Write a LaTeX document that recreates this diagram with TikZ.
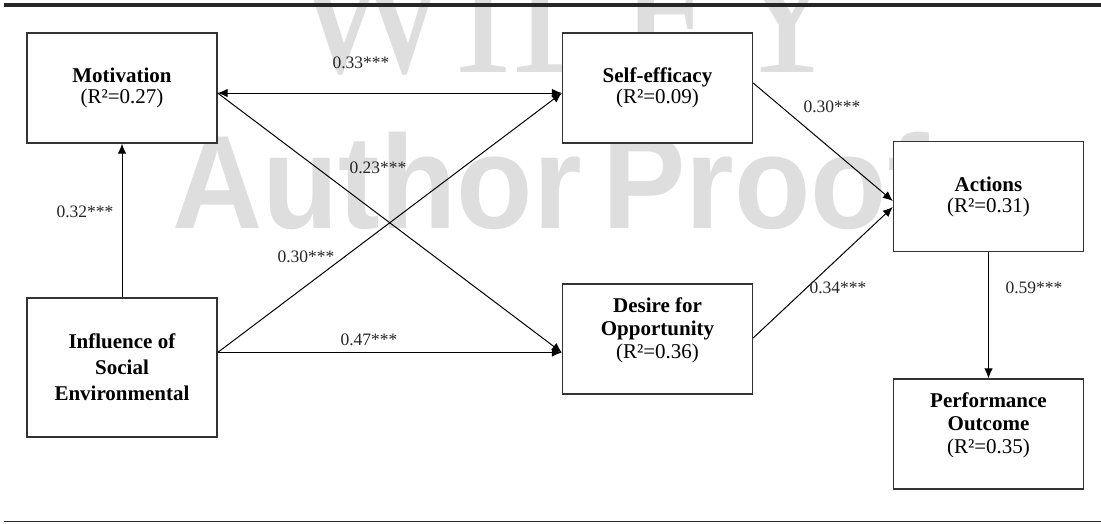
\documentclass[tikz,border=0pt]{standalone}
\usepackage{fontspec}
\setmainfont{Liberation Serif}
\setsansfont{Liberation Sans}
\usetikzlibrary{arrows.meta}

\tikzset{
  box/.style={draw=black!80, line width=1.3pt, fill=white, minimum width=190pt,
    minimum height=110pt, align=center, inner sep=0pt,
    font=\fontsize{21}{23}\selectfont},
  coef/.style={font=\fontsize{17.5}{20}\selectfont, text=black!85, inner sep=0pt},
  link/.style={line width=1pt, -{Latex[length=10pt,width=8.5pt]}},
  wmark/.style={text=black!13, inner sep=0pt}
}

\begin{document}
\begin{tikzpicture}[x=1pt, y=-1pt]
  \useasboundingbox (0,0) rectangle (1101,523);
  % watermark
  \begin{scope}
    \clip (0,0) rectangle (1101,523);
    \node[wmark, anchor=base west, xscale=0.94,
      font=\fontsize{185}{185}\selectfont] (wiley) at (290,72) {WILEY};
    \node[wmark, anchor=base west, xscale=0.94,
      font=\sffamily\bfseries\fontsize{133}{133}\selectfont] (proof) at (172,228)
      {Author\kern-15pt\ Proof};
  \end{scope}
  \draw[black!85, line width=4pt] (3.5,5.3) -- (1101,5.3);
  \draw[black!85, line width=1.3pt] (3.5,521.7) -- (1101,521.7);

  \node[box] (mot) at (122,88) {\textbf{Motivation}\\[-2pt](R²=0.27)};
  \node[box] (self) at (657.5,88) {\textbf{Self-efficacy}\\[-2pt](R²=0.09)};
  \node[box] (act) at (988.5,196.5) {\textbf{Actions}\\[-2pt](R²=0.31)};
  \node[box, minimum height=139pt] (infl) at (122,367.5)
    {\textbf{Influence of}\\[3pt]\textbf{Social}\\[3pt]\textbf{Environmental}};
  \node[box, text depth=22pt] (des) at (657.5,339)
    {\textbf{Desire for}\\\textbf{Opportunity}\\(R²=0.36)};
  \node[box, text depth=22pt] (perf) at (988.5,434)
    {\textbf{Performance}\\\textbf{Outcome}\\(R²=0.35)};

  \draw[link] (infl.north) -- (mot.south);
  \draw[link, {Latex[length=10pt,width=8.5pt]}-{Latex[length=10pt,width=8.5pt]}]
    ([yshift=-5pt]mot.east) -- ([yshift=-5pt]self.west);
  \draw[link] ([yshift=-5pt]mot.east) -- ([yshift=-13.5pt]des.west);
  \draw[link] ([yshift=15pt]infl.east) -- ([yshift=-5pt]self.west);
  \draw[link] ([yshift=15pt]infl.east) -- ([yshift=-13.5pt]des.west);
  \draw[link] ([yshift=5pt]self.east) -- ([yshift=-4.5pt]act.west);
  \draw[link] ([yshift=1pt]des.east) -- ([yshift=-10.5pt]act.west);
  \draw[link] (act.south) -- (perf.north);

  \node[coef] (cMotSelf) at (361,63) {0.33***};
  \node[coef] (cMotDes) at (378,168) {0.23***};
  \node[coef] (cInflSelf) at (306,257) {0.30***};
  \node[coef] (cInflMot) at (85,212) {0.32***};
  \node[coef] (cInflDes) at (369,340) {0.47***};
  \node[coef] (cSelfAct) at (832,107) {0.30***};
  \node[coef] (cDesAct) at (838,288) {0.34***};
  \node[coef] (cActPerf) at (1034,288) {0.59***};
\end{tikzpicture}
\end{document}
